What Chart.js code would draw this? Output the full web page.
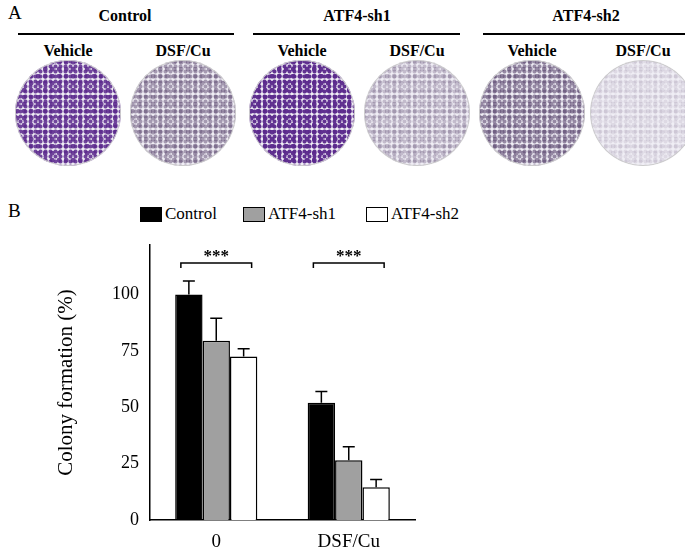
<!DOCTYPE html>
<html><head><meta charset="utf-8">
<script src="https://cdn.jsdelivr.net/npm/chart.js@4"></script>
<style>
body{margin:0;width:685px;height:557px;background:#fff;font-family:"Liberation Serif",serif;position:relative;overflow:hidden}
.t{position:absolute;white-space:nowrap}
.h{font-weight:bold;font-size:16px;transform:translateX(-50%)}
.line{position:absolute;height:1.5px;background:#000;top:33px}
.well{position:absolute;width:106px;height:106px;border-radius:50%;top:60px}
#cw{position:absolute;left:0;top:190px;width:685px;height:367px}
.lg{position:absolute;top:204px;font-size:17px;display:flex;align-items:center}
.sw{width:22px;height:15px;border:1.5px solid #000;margin-right:3px;box-sizing:border-box}
</style></head><body>
<div class="t" style="left:8px;top:2px;font-size:19px">A</div>
<div class="t" style="left:8px;top:200px;font-size:19px">B</div>
<div class="t h" style="left:125px;top:7px">Control</div>
<div class="t h" style="left:357px;top:7px">ATF4-sh1</div>
<div class="t h" style="left:586px;top:7px">ATF4-sh2</div>
<div class="line" style="left:18px;width:216px"></div>
<div class="line" style="left:253px;width:207px"></div>
<div class="line" style="left:483px;width:207px"></div>
<div id="subs"></div>
<div class="lg" style="left:140px"><div class="sw" style="background:#000"></div>Control</div>
<div class="lg" style="left:243px"><div class="sw" style="background:#a0a0a0"></div>ATF4-sh1</div>
<div class="lg" style="left:366px"><div class="sw" style="background:#fff"></div>ATF4-sh2</div>
<canvas id="cw" width="685" height="367"></canvas>
<script>
const categories=["0","DSF/Cu"];
const seriesNames=["Control","ATF4-sh1","ATF4-sh2"];
const controlVals=[100,52];
const sh1Vals=[79.5,26.5];
const sh2Vals=[72.5,14.5];
const controlErr=[6,5];
const sh1Err=[10,6];
const sh2Err=[3.5,3.5];
const yTicks=[0,25,50,75,100];
const wellLabels=["Vehicle","DSF/Cu","Vehicle","DSF/Cu","Vehicle","DSF/Cu"];
const wellDensity=[0.85,0.5,0.95,0.3,0.6,0.12];

const wellX=[68,183,302,417,532,643];
const subs=document.getElementById('subs');
wellLabels.forEach((l,i)=>{
 const d=document.createElement('div');d.className='t h';d.style.left=wellX[i]+'px';d.style.top='42px';d.textContent=l;subs.appendChild(d);
 const w=document.createElement('div');w.className='well';w.style.left=(wellX[i]-53)+'px';
 const a=wellDensity[i];
 const c=i%2==0&&i<4?`rgba(90,40,140,${a})`:`rgba(90,70,110,${a})`;
 w.style.background=`radial-gradient(circle at 30% 30%, ${c} 0 2px, transparent 3px) 0 0/7px 7px, radial-gradient(circle, ${c} 0 1.5px, transparent 2.5px) 3px 4px/5px 5px, rgba(240,238,245,1)`;
 w.style.boxShadow='inset 0 0 0 1px #ccc';
 subs.appendChild(w);
});

const errs=[controlErr,sh1Err,sh2Err];
const errPlugin={id:'err',afterDatasetsDraw(ch){
 const ctx=ch.ctx,y=ch.scales.y;ctx.save();ctx.strokeStyle='#000';ctx.lineWidth=1.5;
 ch.data.datasets.forEach((ds,di)=>{ch.getDatasetMeta(di).data.forEach((b,i)=>{
  const top=y.getPixelForValue(ds.data[i]+errs[di][i]);
  ctx.beginPath();ctx.moveTo(b.x,b.y);ctx.lineTo(b.x,top);ctx.moveTo(b.x-6,top);ctx.lineTo(b.x+6,top);ctx.stroke();});});
 ctx.font='bold 17px "Liberation Serif"';ctx.textAlign='center';ctx.fillStyle='#000';
 const yb=y.getPixelForValue(114);
 for(let i=0;i<2;i++){
  const x1=ch.getDatasetMeta(0).data[i].x-8,x2=ch.getDatasetMeta(2).data[i].x+8;
  ctx.beginPath();ctx.moveTo(x1,yb+5);ctx.lineTo(x1,yb);ctx.lineTo(x2,yb);ctx.lineTo(x2,yb+5);ctx.stroke();
  ctx.fillText('***',(x1+x2)/2,yb-2);
 }
 ctx.restore();}};

new Chart(document.getElementById('cw'),{type:'bar',
 data:{labels:categories,datasets:[
  {label:seriesNames[0],data:controlVals,backgroundColor:'#000'},
  {label:seriesNames[1],data:sh1Vals,backgroundColor:'#a0a0a0'},
  {label:seriesNames[2],data:sh2Vals,backgroundColor:'#fff'}].map(d=>Object.assign(d,{borderColor:'#000',borderWidth:1.5,barPercentage:1,categoryPercentage:0.62}))},
 options:{responsive:false,animation:false,devicePixelRatio:1,
  layout:{padding:{top:55,right:270,left:52,bottom:0}},
  plugins:{legend:{display:false},tooltip:{enabled:false}},
  scales:{
   y:{min:0,max:122,afterBuildTicks(s){s.ticks=yTicks.map(v=>({value:v}));},afterFit(s){s.width=98;},
     grid:{display:false,drawTicks:true,tickLength:7,tickColor:'#000'},border:{color:'#000',width:1.5},
     ticks:{color:'#000',font:{family:'Liberation Serif',size:18},padding:4},
     title:{display:true,text:'Colony formation (%)',color:'#000',font:{family:'Liberation Serif',size:21},padding:2}},
   x:{afterFit(s){s.height=37;},grid:{display:false,tickLength:7,tickColor:'#000'},border:{color:'#000',width:1.5},
     ticks:{color:'#000',font:{family:'Liberation Serif',size:19},padding:4}}}},
 plugins:[errPlugin]});
</script></body></html>
